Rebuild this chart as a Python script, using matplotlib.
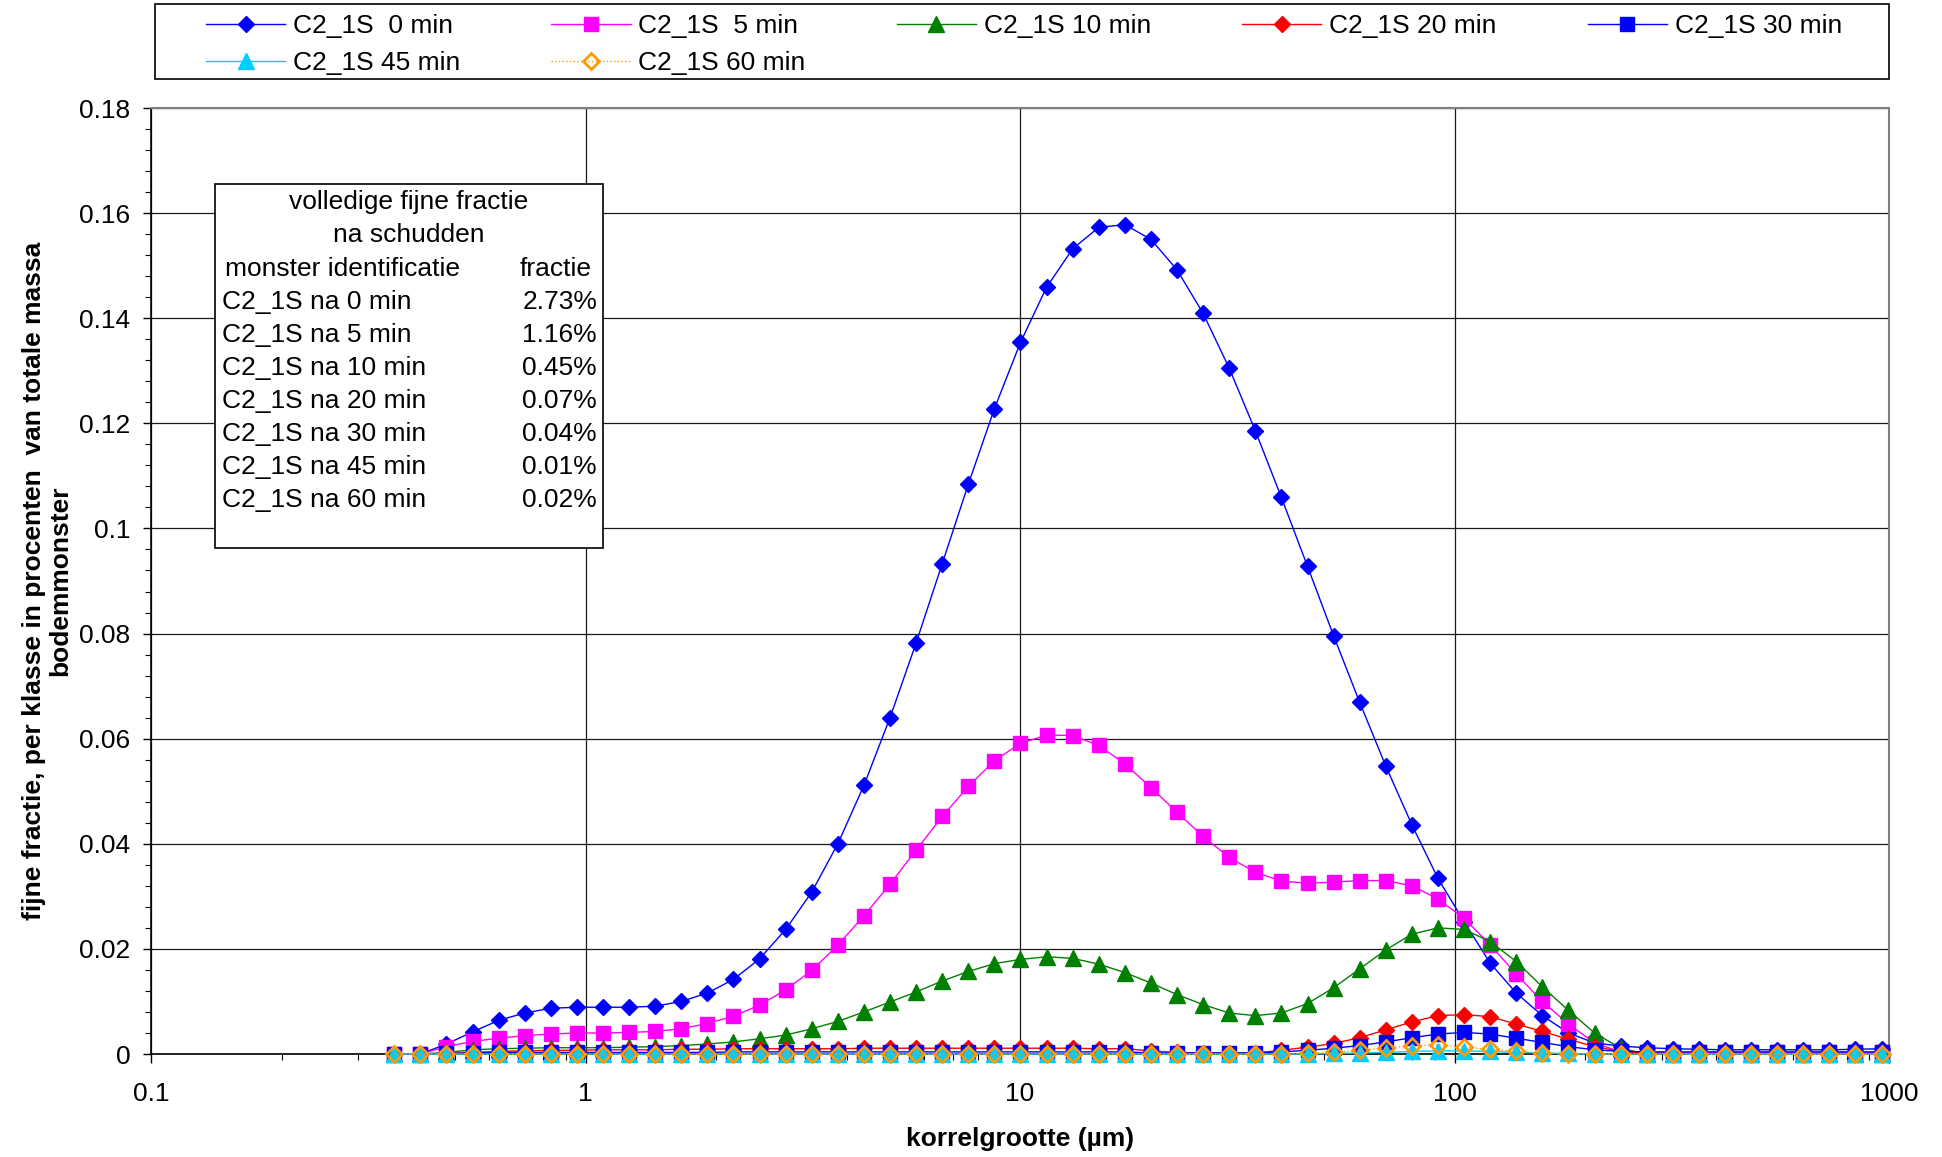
import matplotlib as mpl
mpl.use('Agg')
import matplotlib.pyplot as plt
from matplotlib.patches import Rectangle
from matplotlib.ticker import MultipleLocator, FixedLocator, FuncFormatter, LogLocator, NullFormatter

mpl.rcParams.update({'font.family': 'Liberation Sans', 'font.size': 19})

W, H = 1942, 1157

# korrelgrootte klassen (um)
sizes = [0.363, 0.4168, 0.4786, 0.5495, 0.6311, 0.7246, 0.8322, 0.9555, 1.0972, 1.2598,
         1.4467, 1.6612, 1.9077, 2.1906, 2.5153, 2.8884, 3.3166, 3.8085, 4.3731, 5.0218,
         5.7661, 6.6222, 7.6033, 8.7324, 10.025, 11.513, 13.218, 15.183, 17.430, 20.018,
         22.981, 26.395, 30.302, 34.801, 39.955, 45.889, 52.684, 60.507, 69.471, 79.793,
         91.614, 105.19, 120.78, 138.72, 159.26, 182.91, 210.01, 241.21, 276.95, 318.07,
         365.17, 419.41, 481.53, 553.05, 634.95, 729.25, 837.23, 961.56]

frac_0 = [0, 0, 0.0019, 0.0042, 0.0064, 0.0078, 0.0087, 0.0089, 0.0089, 0.0089,
          0.0091, 0.0100, 0.0116, 0.0142, 0.0181, 0.0237, 0.0308, 0.0400, 0.0511, 0.0640,
          0.0782, 0.0933, 0.1084, 0.1228, 0.1354, 0.1459, 0.1532, 0.1573, 0.1578, 0.1550,
          0.1492, 0.1409, 0.1305, 0.1186, 0.1059, 0.0928, 0.0796, 0.0669, 0.0548, 0.0436,
          0.0334, 0.0252, 0.0173, 0.0116, 0.0073, 0.0040, 0.0021, 0.0015, 0.0012, 0.0010,
          0.0009, 0.0008, 0.0008, 0.0008, 0.0008, 0.0008, 0.0009, 0.0010]
frac_5 = [0, 0, 0.0014, 0.0024, 0.0030, 0.0035, 0.0038, 0.0040, 0.0040, 0.0041,
          0.0043, 0.0048, 0.0058, 0.0072, 0.0093, 0.0122, 0.0159, 0.0207, 0.0263, 0.0323,
          0.0388, 0.0452, 0.0509, 0.0558, 0.0591, 0.0607, 0.0606, 0.0587, 0.0552, 0.0507,
          0.0460, 0.0414, 0.0374, 0.0346, 0.0329, 0.0325, 0.0327, 0.0330, 0.0330, 0.0320,
          0.0295, 0.0258, 0.0208, 0.0152, 0.0100, 0.0057, 0.0021, 0.0004, 0.0003, 0.0003,
          0.0003, 0.0003, 0.0003, 0.0003, 0.0003, 0.0003, 0.0003, 0.0003]
frac_10 = [0, 0, 0.0003, 0.0008, 0.0010, 0.0011, 0.0012, 0.0012, 0.0012, 0.0013,
           0.0014, 0.0016, 0.0019, 0.0023, 0.0029, 0.0036, 0.0048, 0.0062, 0.0080, 0.0099,
           0.0118, 0.0139, 0.0157, 0.0172, 0.0180, 0.0185, 0.0182, 0.0171, 0.0155, 0.0135,
           0.0113, 0.0094, 0.0078, 0.0073, 0.0078, 0.0096, 0.0126, 0.0162, 0.0198, 0.0228,
           0.0240, 0.0237, 0.0214, 0.0176, 0.0128, 0.0083, 0.0040, 0.0011, 0, 0,
           0, 0, 0, 0, 0, 0, 0, 0]
frac_20 = [0, 0, 0.0001, 0.0003, 0.0005, 0.0006, 0.0007, 0.0007, 0.0008, 0.0008,
           0.0008, 0.0009, 0.0009, 0.0010, 0.0010, 0.0010, 0.0010, 0.0010, 0.0011, 0.0011,
           0.0011, 0.0011, 0.0011, 0.0011, 0.0011, 0.0011, 0.0011, 0.0010, 0.0010, 0.0006,
           0.0003, 0.0002, 0.0002, 0.0002, 0.0007, 0.0013, 0.0020, 0.0031, 0.0046, 0.0061,
           0.0073, 0.0075, 0.0071, 0.0057, 0.0043, 0.0028, 0.0014, 0.0005, 0.0002, 0.0001,
           0.0001, 0.0001, 0.0001, 0.0001, 0.0001, 0.0001, 0.0001, 0.0001]
frac_30 = [0, 0, 0.0001, 0.0002, 0.0003, 0.0003, 0.0003, 0.0003, 0.0003, 0.0003,
           0.0003, 0.0003, 0.0003, 0.0004, 0.0004, 0.0004, 0.0004, 0.0004, 0.0004, 0.0004,
           0.0004, 0.0004, 0.0004, 0.0004, 0.0004, 0.0004, 0.0004, 0.0004, 0.0004, 0.0002,
           0.0002, 0.0002, 0.0002, 0.0002, 0.0004, 0.0007, 0.0011, 0.0016, 0.0023, 0.0031,
           0.0038, 0.0041, 0.0038, 0.0030, 0.0022, 0.0014, 0.0008, 0.0005, 0.0004, 0.0004,
           0.0004, 0.0004, 0.0004, 0.0004, 0.0004, 0.0004, 0.0004, 0.0004]
frac_45 = [0, 0, 0, 0, 0, 0, 0, 0, 0, 0,
           0, 0, 0, 0, 0, 0, 0, 0, 0, 0,
           0, 0, 0, 0, 0, 0, 0, 0, 0, 0,
           0, 0, 0, 0, 0, 0, 0.0001, 0.0002, 0.0003, 0.0005,
           0.0006, 0.0006, 0.0005, 0.0003, 0.0002, 0.0001, 0, 0, 0, 0,
           0, 0, 0, 0, 0, 0, 0, 0]
frac_60 = [0, 0, 0, 0, 0, 0, 0, 0, 0, 0,
           0, 0, 0, 0, 0, 0, 0, 0, 0, 0,
           0, 0, 0, 0, 0, 0, 0, 0, 0, 0,
           0, 0, 0, 0, 0, 0.0001, 0.0003, 0.0007, 0.0011, 0.0016,
           0.0017, 0.0013, 0.0009, 0.0005, 0.0002, 0, 0, 0, 0, 0,
           0, 0, 0, 0, 0, 0, 0, 0]

labels = ['C2_1S  0 min', 'C2_1S  5 min', 'C2_1S 10 min', 'C2_1S 20 min',
          'C2_1S 30 min', 'C2_1S 45 min', 'C2_1S 60 min']

samples = ['C2_1S na 0 min', 'C2_1S na 5 min', 'C2_1S na 10 min', 'C2_1S na 20 min',
           'C2_1S na 30 min', 'C2_1S na 45 min', 'C2_1S na 60 min']
totals = ['2.73%', '1.16%', '0.45%', '0.07%', '0.04%', '0.01%', '0.02%']


def fx(px):
    return px / W


def fy(py):
    return 1 - py / H


fig = plt.figure(figsize=(W / 100, H / 100), dpi=100)
ax = fig.add_axes([fx(151), fy(1054), (1889 - 151) / W, (1054 - 108) / H])

# (data, color, marker, size, linestyle, facecolor)
styles = [
    (frac_0, '#0000FF', 'D', 8.5, '-', None),
    (frac_5, '#FF00FF', 's', 10.5, '-', None),
    (frac_10, '#008000', '^', 11, '-', None),
    (frac_20, '#FF0000', 'D', 8.5, '-', None),
    (frac_30, '#0000FF', 's', 10.5, '-', None),
    (frac_45, '#00CCFF', '^', 11, '-', None),
    (frac_60, '#FF9900', 'D', 8, ':', 'none'),
]

handles = []
for (vals, col, mk, ms, ls, fc), lab in zip(styles, labels):
    h, = ax.plot(sizes, vals, color=col, marker=mk, ms=ms, ls=ls, lw=1.0,
                 mfc=fc if fc else col, mec=col, mew=2 if fc else 1,
                 clip_on=False, label=lab, zorder=3)
    handles.append(h)

ax.set_xscale('log')
ax.set_xlim(0.1, 1000)
ax.set_ylim(0, 0.18)

ax.xaxis.set_major_locator(FixedLocator([0.1, 1, 10, 100, 1000]))
ax.xaxis.set_major_formatter(FuncFormatter(lambda v, p: '%g' % v))
ax.xaxis.set_minor_locator(LogLocator(base=10, subs=range(2, 10)))
ax.xaxis.set_minor_formatter(NullFormatter())
ax.yaxis.set_major_locator(MultipleLocator(0.02))
ax.yaxis.set_minor_locator(MultipleLocator(0.004))
ax.yaxis.set_major_formatter(FuncFormatter(lambda v, p: '%g' % round(v, 3)))

ax.tick_params(axis='x', which='major', direction='out', length=6.5, width=1, pad=14)
ax.tick_params(axis='x', which='minor', direction='out', length=4.5, width=0.8)
ax.tick_params(axis='y', which='major', direction='out', length=6, width=1, pad=9)
ax.tick_params(axis='y', which='minor', direction='out', length=4, width=0.8)

ax.grid(True, which='major', axis='both', color='#1a1a1a', lw=0.9)
ax.set_axisbelow(True)
for s in ['left', 'bottom']:
    ax.spines[s].set_color('black')
    ax.spines[s].set_linewidth(1.2)
for s in ['top', 'right']:
    ax.spines[s].set_color('#808080')
    ax.spines[s].set_linewidth(1.5)

# legend in its own box above the plot area
order = [0, 5, 1, 6, 2, 3, 4]
fig.legend([handles[i] for i in order], [labels[i] for i in order],
           loc='center', bbox_to_anchor=(fx(1024), fy(44.5)), ncol=5, frameon=False,
           handlelength=3.0, handletextpad=0.3, columnspacing=3.45,
           labelspacing=0.5, numpoints=1, fontsize=19)
fig.add_artist(Rectangle((fx(155), fy(79)), (1889 - 155) / W, 75 / H,
                         transform=fig.transFigure, fill=False,
                         edgecolor='black', lw=1.2))

# text box with total fine fraction per sample
fig.add_artist(Rectangle((fx(215), fy(548)), (603 - 215) / W, (548 - 184) / H,
                         transform=fig.transFigure, facecolor='white',
                         edgecolor='black', lw=1.2, zorder=5))
fig.text(fx(409), fy(202), 'volledige fijne fractie', ha='center', va='center', zorder=6)
fig.text(fx(409), fy(235), 'na schudden', ha='center', va='center', zorder=6)
fig.text(fx(225), fy(268.5), 'monster identificatie', ha='left', va='center', zorder=6)
fig.text(fx(592), fy(268.5), 'fractie', ha='right', va='center', zorder=6)
for i, (name, val) in enumerate(zip(samples, totals)):
    yy = 302 + 33 * i
    fig.text(fx(222), fy(yy), name, ha='left', va='center', zorder=6)
    fig.text(fx(597), fy(yy), val, ha='right', va='center', zorder=6)

fig.text(fx(47), fy(581), 'fijne fractie, per klasse in procenten  van totale massa\nbodemmonster',
         rotation=90, ha='center', va='center', fontweight='bold', linespacing=1.1)
fig.text(fx(1020), fy(1139), 'korrelgrootte (µm)', ha='center', va='center', fontweight='bold')

fig.savefig('out.png', dpi=100)
